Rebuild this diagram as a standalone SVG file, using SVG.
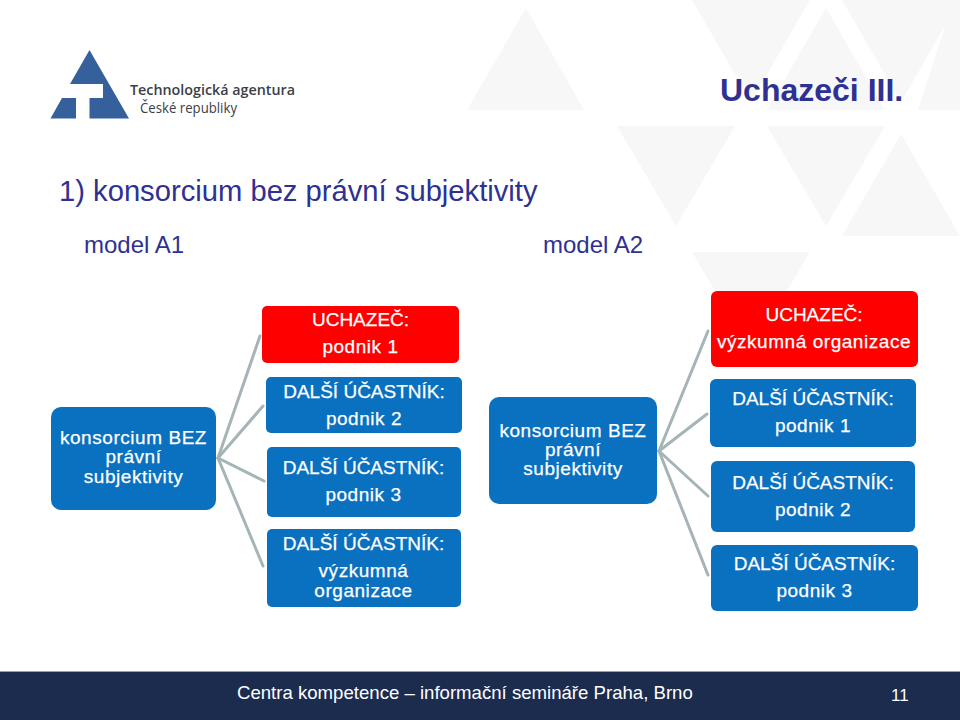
<svg xmlns="http://www.w3.org/2000/svg" width="960" height="720" viewBox="0 0 960 720">
<style>
text{font-family:"Liberation Sans",Arial,sans-serif}
.bg{fill:#f7f7f7}
.blue{fill:#0a70c0}
.red{fill:#fe0000}
.n{font-size:19px;fill:#fff;text-anchor:middle;stroke:#fff;stroke-width:.25px}
.l{font-size:19px;letter-spacing:.55px}
.h{fill:#2e3192}
.c{stroke:#a5b5b7;stroke-width:3px;fill:none;stroke-linecap:round}
</style>
<rect width="960" height="720" fill="#fff"/>
<g id="background">
<polygon class="bg" points="526,8 584,110 467,110"/>
<polygon class="bg" points="692,0 810,0 751,102"/>
<polygon class="bg" points="826,8 885,110 767,110"/>
<polygon class="bg" points="842,0 960,0 901,102"/>
<polygon class="bg" points="960,-20 960,110 918,110"/>
<polygon class="bg" points="617,126 735,126 676,226"/>
<polygon class="bg" points="767,126 885,126 826,226"/>
<polygon class="bg" points="901,134 960,236 842,236"/>
<polygon class="bg" points="692,252 810,252 751,352"/>
</g>
<g id="logo">
<path fill="#35609b" d="M50.5,118.500L62,98H76V118.500ZM89.500,50L129,118.500H89.500V98H103V84H70Z"/>
<text x="130" y="95" font-size="14" font-weight="600" fill="#3a4048" style="font-family:'Open Sans',sans-serif" textLength="165" lengthAdjust="spacingAndGlyphs">Technologická agentura</text>
<text x="140" y="113" font-size="14" fill="#3a4048" style="font-family:'Open Sans',sans-serif" textLength="97" lengthAdjust="spacingAndGlyphs">České republiky</text>
</g>
<text id="title" class="h" x="720" y="101" font-size="32" font-weight="700">Uchazeči III.</text>
<text id="subtitle" class="h" x="59" y="201" font-size="29.200">1) konsorcium bez právní subjektivity</text>
<text id="modelA1" class="h" x="84" y="253" font-size="24">model A1</text>
<text id="modelA2" class="h" x="543" y="253" font-size="24">model A2</text>
<g id="connectors">
<line class="c" x1="218" y1="458" x2="260" y2="336"/>
<line class="c" x1="218" y1="458" x2="263" y2="406"/>
<line class="c" x1="218" y1="458" x2="264" y2="481"/>
<line class="c" x1="218" y1="458" x2="263" y2="566"/>
<line class="c" x1="659" y1="451" x2="708" y2="331"/>
<line class="c" x1="659" y1="451" x2="707" y2="414"/>
<line class="c" x1="659" y1="451" x2="708" y2="496"/>
<line class="c" x1="659" y1="451" x2="708" y2="575"/>
</g>
<g id="a1-root"><rect class="blue" x="51" y="407" width="165" height="103" rx="10"/><text class="n l" x="133.500" y="444">konsorcium BEZ</text><text class="n l" x="133.500" y="463">právní</text><text class="n l" x="133.500" y="483">subjektivity</text></g>
<g id="a1-uchazec"><rect class="red" x="262" y="306" width="197" height="57" rx="5"/><text class="n" x="360.500" y="326">UCHAZEČ:</text><text class="n l" x="360.500" y="353">podnik 1</text></g>
<g id="a1-p2"><rect class="blue" x="266" y="377" width="196" height="56" rx="5"/><text class="n" x="364" y="398">DALŠÍ ÚČASTNÍK:</text><text class="n l" x="364" y="425">podnik 2</text></g>
<g id="a1-p3"><rect class="blue" x="267" y="447" width="194" height="70" rx="5"/><text class="n" x="363.500" y="474">DALŠÍ ÚČASTNÍK:</text><text class="n l" x="363.500" y="501">podnik 3</text></g>
<g id="a1-vo"><rect class="blue" x="267" y="529" width="194" height="78" rx="5"/><text class="n" x="363.500" y="550">DALŠÍ ÚČASTNÍK:</text><text class="n l" x="363.500" y="577">výzkumná</text><text class="n l" x="363.500" y="597">organizace</text></g>
<g id="a2-root"><rect class="blue" x="489" y="397" width="168" height="107" rx="10"/><text class="n l" x="573" y="437">konsorcium BEZ</text><text class="n l" x="573" y="456">právní</text><text class="n l" x="573" y="475">subjektivity</text></g>
<g id="a2-uchazec"><rect class="red" x="711" y="291" width="207" height="76" rx="6"/><text class="n" x="814" y="321">UCHAZEČ:</text><text class="n l" x="814" y="348">výzkumná organizace</text></g>
<g id="a2-p1"><rect class="blue" x="710" y="379" width="206" height="68" rx="6"/><text class="n" x="813" y="405">DALŠÍ ÚČASTNÍK:</text><text class="n l" x="813" y="432">podnik 1</text></g>
<g id="a2-p2"><rect class="blue" x="711" y="461" width="204" height="71" rx="6"/><text class="n" x="813" y="489">DALŠÍ ÚČASTNÍK:</text><text class="n l" x="813" y="516">podnik 2</text></g>
<g id="a2-p3"><rect class="blue" x="711" y="545" width="207" height="66" rx="6"/><text class="n" x="814.500" y="570">DALŠÍ ÚČASTNÍK:</text><text class="n l" x="814.500" y="597">podnik 3</text></g>
<g id="footer">
<rect y="671" width="960" height="1.500" fill="#9aa0aa"/>
<rect y="672" width="960" height="48" fill="#1c2c4f"/>
<text x="237" y="699" font-size="18.600" fill="#fff">Centra kompetence – informační semináře Praha, Brno</text>
<text x="891" y="701" font-size="17" fill="#fff">11</text>
</g>
</svg>
